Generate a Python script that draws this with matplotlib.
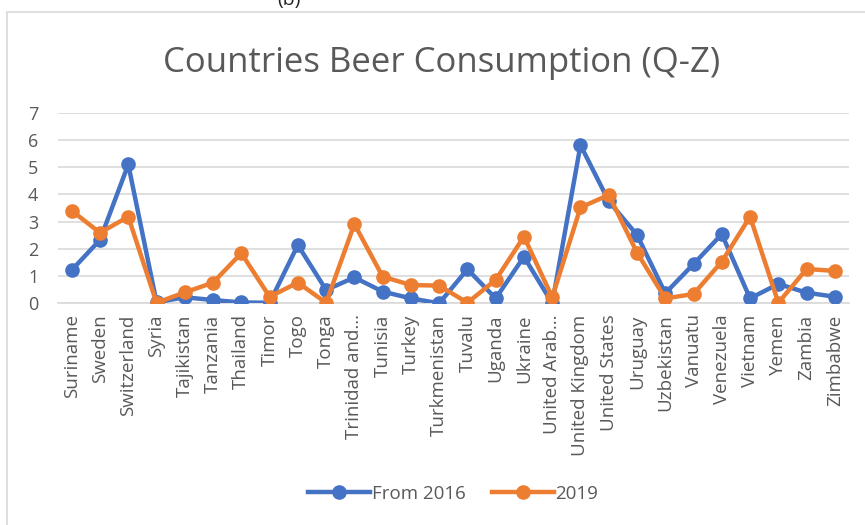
import matplotlib.pyplot as plt
from matplotlib.patches import Rectangle

countries = ['Suriname', 'Sweden', 'Switzerland', 'Syria', 'Tajikistan', 'Tanzania',
             'Thailand', 'Timor', 'Togo', 'Tonga', 'Trinidad and...', 'Tunisia', 'Turkey',
             'Turkmenistan', 'Tuvalu', 'Uganda', 'Ukraine', 'United Arab...',
             'United Kingdom', 'United States', 'Uruguay', 'Uzbekistan', 'Vanuatu',
             'Venezuela', 'Vietnam', 'Yemen', 'Zambia', 'Zimbabwe']
from_2016 = [1.22, 2.33, 5.1, 0.04, 0.22, 0.12, 0.03, 0.02, 2.14, 0.49, 0.95, 0.43, 0.18,
             0.0, 1.25, 0.18, 1.71, 0.0, 5.81, 3.75, 2.51, 0.37, 1.44, 2.54, 0.18, 0.71,
             0.39, 0.24]
y2019 = [3.4, 2.59, 3.18, 0.02, 0.4, 0.76, 1.84, 0.24, 0.76, 0.02, 2.91, 0.98, 0.67,
         0.65, 0.02, 0.86, 2.45, 0.22, 3.52, 3.98, 1.86, 0.18, 0.34, 1.53, 3.18, 0.02,
         1.26, 1.19]

gray = '#595959'
blue = '#4472C4'
orange = '#ED7D31'

plt.rcParams['font.family'] = ['Open Sans', 'DejaVu Sans']

fig = plt.figure(figsize=(8.65, 5.25), dpi=100)
ax = fig.add_axes([0.0666, 0.4223, 0.9149, 0.363])

x = list(range(len(countries)))
ax.plot(x, from_2016, color=blue, lw=3.2, marker='o', ms=9.5, label='From 2016', zorder=3)
ax.plot(x, y2019, color=orange, lw=3.2, marker='o', ms=9.5, label='2019', zorder=4)

ax.set_xlim(-0.5, len(countries) - 0.5)
ax.set_ylim(0, 7)
ax.set_yticks(range(8))
ax.yaxis.grid(True, color='#D9D9D9', lw=1.2)
ax.set_axisbelow(True)
for s in ['left', 'right', 'top']:
    ax.spines[s].set_visible(False)
ax.spines['bottom'].set_color('#D9D9D9')
ax.spines['bottom'].set_linewidth(1.2)
ax.set_xticks(x)
ax.set_xticklabels(countries, rotation=90, fontsize=13.5, color=gray)
ax.tick_params(axis='y', labelsize=13, labelcolor=gray, length=0, pad=14)
ax.tick_params(axis='x', length=0, pad=8)

fig.text(0.511, 0.88, 'Countries Beer Consumption (Q-Z)', ha='center', va='center',
         fontsize=25, color=gray)
fig.text(0.334, 1.0, '(b)', ha='center', va='center', fontsize=14, color='#222222')

ax.legend(loc='center', bbox_to_anchor=(0.5, -1.0), ncol=2, frameon=False,
          fontsize=13.5, labelcolor=gray, handlelength=3.3, columnspacing=1.4,
          handletextpad=0.1)

fig.patches.append(Rectangle((0.008, -0.1), 1.1, 1.077, transform=fig.transFigure,
                             fill=False, edgecolor='#D9D9D9', lw=1.2))

fig.savefig('out.png', dpi=100)
